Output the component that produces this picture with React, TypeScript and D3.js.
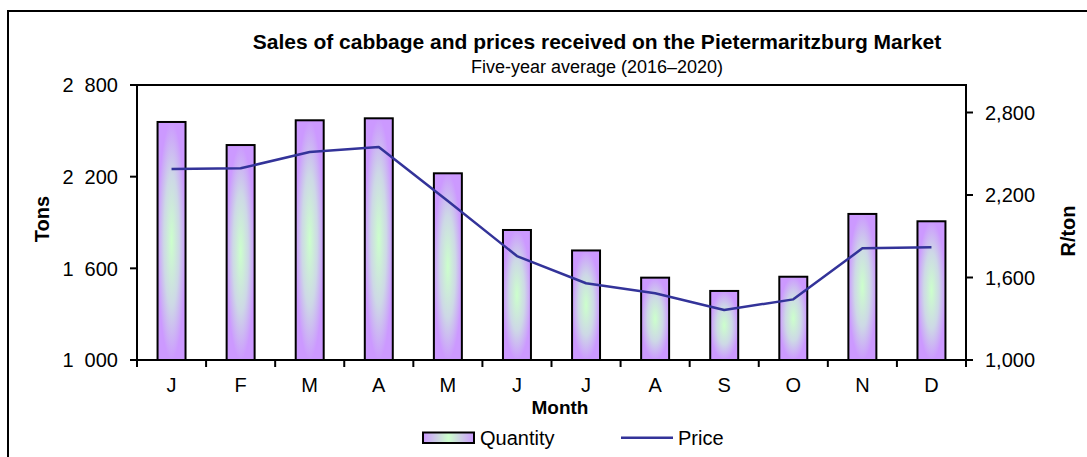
import React from "react";
import * as d3 from "d3";

const months = ["J", "F", "M", "A", "M", "J", "J", "A", "S", "O", "N", "D"];
const quantity = [2558, 2407, 2569, 2582, 2222, 1851, 1717, 1539, 1452, 1545, 1956, 1908];
const price = [2389, 2394, 2513, 2549, 2156, 1756, 1558, 1485, 1364, 1441, 1812, 1820];
const leftTicks = [1000, 1600, 2200, 2800];
const rightTicks = [1000, 1600, 2200, 2800];

const FONT = "'Liberation Sans', Arial, sans-serif";

export default function App() {
  const W = 1087, H = 457;
  const x0 = 137, x1 = 966, yTop = 85, yBot = 360;
  const idx = months.map((_, i) => String(i));
  const x = d3.scaleBand<string>().domain(idx).range([x0, x1]).paddingInner(0).paddingOuter(0);
  const yL = d3.scaleLinear().domain([1000, 2800]).range([yBot, yTop]);
  const yR = d3.scaleLinear().domain([1000, 3000]).range([yBot, yTop]);
  const bw = x.bandwidth();
  const barW = bw * 0.405;
  const line = d3
    .line<number>()
    .x((_, i) => (x(String(i)) as number) + bw / 2)
    .y((d) => yR(d));
  const fmtL = (v: number) => d3.format(",")(v).replace(",", "\u2007");
  const fmtR = d3.format(",");
  const boundaries = d3.range(0, months.length + 1).map((i) => x0 + i * bw);

  return (
    <svg width={W} height={H} style={{ position: "absolute", left: 0, top: 0, background: "#fff" }} fontFamily={FONT}>
      <defs>
        <radialGradient id="barGrad" cx="0.5" cy="0.5" r="0.5" fx="0.5" fy="0.5">
          <stop offset="0" stopColor="#ccffcc" />
          <stop offset="0.55" stopColor="#cdd8e6" />
          <stop offset="1" stopColor="#cc99ff" />
        </radialGradient>
        <linearGradient id="legGrad" x1="0" x2="1" y1="0" y2="0">
          <stop offset="0" stopColor="#cc99ff" />
          <stop offset="0.5" stopColor="#ccffcc" />
          <stop offset="1" stopColor="#cc99ff" />
        </linearGradient>
      </defs>
      <rect x={8} y={11} width={1100} height={470} fill="#fff" stroke="#000" strokeWidth={2} />

      <text x={597} y={49} textAnchor="middle" fontWeight="bold" fontSize={21}>
        Sales of cabbage and prices received on the Pietermaritzburg Market
      </text>
      <text x={597} y={73} textAnchor="middle" fontSize={18}>
        Five-year average (2016–2020)
      </text>

      {/* bars */}
      {quantity.map((v, i) => {
        const cx = (x(String(i)) as number) + bw / 2;
        return (
          <rect
            key={i}
            x={cx - barW / 2}
            y={yL(v)}
            width={barW}
            height={yBot - yL(v)}
            fill="url(#barGrad)"
            stroke="#000"
            strokeWidth={2}
          />
        );
      })}

      {/* plot frame */}
      <rect x={x0} y={yTop} width={x1 - x0} height={yBot - yTop} fill="none" stroke="#000" strokeWidth={2} />

      {/* price line */}
      <path d={line(price) || ""} fill="none" stroke="#333399" strokeWidth={2.5} strokeLinejoin="round" />

      {/* left axis */}
      {leftTicks.map((t) => (
        <g key={"l" + t}>
          <line x1={x0 - 7} x2={x0} y1={yL(t)} y2={yL(t)} stroke="#000" strokeWidth={2} />
          <text x={118} y={yL(t)} dy="0.36em" textAnchor="end" fontSize={20}>
            {fmtL(t)}
          </text>
        </g>
      ))}
      {/* right axis */}
      {rightTicks.map((t) => (
        <g key={"r" + t}>
          <line x1={x1} x2={x1 + 7} y1={yR(t)} y2={yR(t)} stroke="#000" strokeWidth={2} />
          <text x={985} y={yR(t)} dy="0.36em" textAnchor="start" fontSize={20}>
            {fmtR(t)}
          </text>
        </g>
      ))}
      {/* x axis ticks */}
      {boundaries.map((b, i) => (
        <line key={"b" + i} x1={b} x2={b} y1={yBot} y2={yBot + 7} stroke="#000" strokeWidth={2} />
      ))}
      {months.map((m, i) => (
        <text key={"m" + i} x={(x(String(i)) as number) + bw / 2} y={392} textAnchor="middle" fontSize={20}>
          {m}
        </text>
      ))}

      <text x={560} y={414} textAnchor="middle" fontWeight="bold" fontSize={19}>
        Month
      </text>
      <text transform="translate(49,219) rotate(-90)" textAnchor="middle" fontWeight="bold" fontSize={20}>
        Tons
      </text>
      <text transform="translate(1075,231) rotate(-90)" textAnchor="middle" fontWeight="bold" fontSize={20}>
        R/ton
      </text>

      {/* legend */}
      <rect x={423} y={432.5} width={51} height={10.5} fill="url(#legGrad)" stroke="#000" strokeWidth={2} />
      <text x={480} y={445} fontSize={20}>Quantity</text>
      <line x1={621} x2={673} y1={437.7} y2={437.7} stroke="#333399" strokeWidth={2.5} />
      <text x={678} y={445} fontSize={20}>Price</text>
    </svg>
  );
}
